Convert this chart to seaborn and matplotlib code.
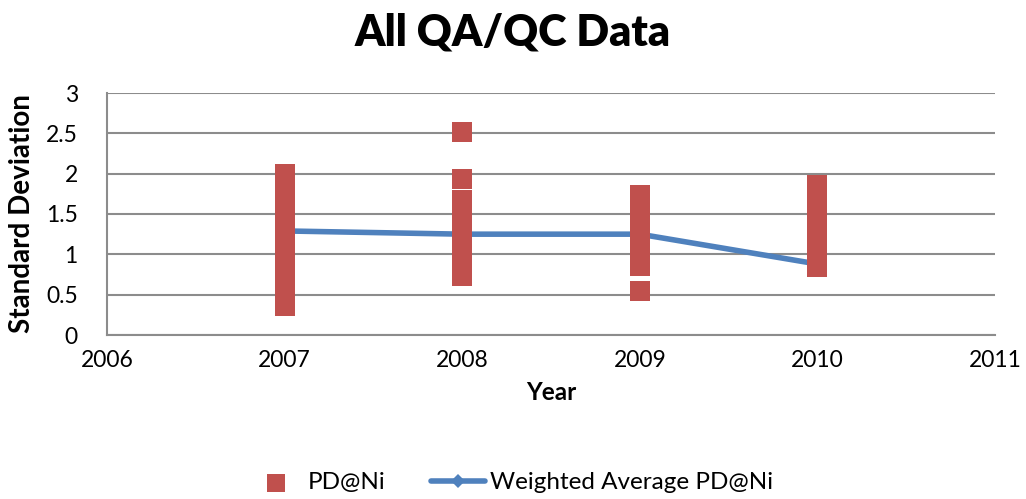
import matplotlib

matplotlib.use("Agg")
import matplotlib.pyplot as plt
import numpy as np
import pandas as pd
import seaborn as sns

# individual PD@Ni standard deviations per year
years_2007 = [2.00, 1.92, 1.84, 1.75, 1.66, 1.58, 1.50, 1.42, 1.33, 1.25,
              1.16, 1.08, 1.00, 0.92, 0.83, 0.75, 0.66, 0.58, 0.50, 0.42, 0.36]
years_2008 = [2.52, 1.94, 1.67, 1.58, 1.50, 1.42, 1.33, 1.25, 1.16, 1.08,
              1.00, 0.92, 0.84, 0.78, 0.73]
years_2009 = [1.73, 1.65, 1.58, 1.50, 1.42, 1.33, 1.25, 1.16, 1.08, 1.00,
              0.92, 0.85, 0.55]
years_2010 = [1.86, 1.78, 1.70, 1.62, 1.54, 1.46, 1.38, 1.30, 1.22, 1.14,
              1.06, 0.98, 0.90, 0.84]

avg_years = [2007, 2008, 2009, 2010]
avg_values = [1.29, 1.25, 1.25, 0.88]

pts = pd.DataFrame({
    "Year": [2007] * len(years_2007) + [2008] * len(years_2008)
    + [2009] * len(years_2009) + [2010] * len(years_2010),
    "SD": years_2007 + years_2008 + years_2009 + years_2010,
})
avg = pd.DataFrame({"Year": avg_years, "SD": avg_values})

sns.set_style("white")
plt.rcParams["font.family"] = ["Lato", "DejaVu Sans"]
plt.rcParams["text.color"] = "black"
plt.rcParams["axes.labelcolor"] = "black"
plt.rcParams["xtick.color"] = "black"
plt.rcParams["ytick.color"] = "black"

fig = plt.figure(figsize=(10.26, 4.99), dpi=100)
ax = fig.add_axes([107 / 1026, 1 - 335 / 499, (995 - 107) / 1026, (335 - 93) / 499])

sns.lineplot(data=avg, x="Year", y="SD", ax=ax, color="#4F81BD", lw=4,
             marker="D", markersize=8, markeredgewidth=0, zorder=2,
             label="Weighted Average PD@Ni")
sns.scatterplot(data=pts, x="Year", y="SD", ax=ax, color="#C0504D", marker="s",
                s=220, linewidth=0, zorder=3, label="PD@Ni")

ax.set_xlim(2006, 2011)
ax.set_ylim(0, 3)
ax.set_xticks([2006, 2007, 2008, 2009, 2010, 2011])
ax.set_yticks([0, 0.5, 1, 1.5, 2, 2.5, 3])
ax.set_yticklabels(["0", "0.5", "1", "1.5", "2", "2.5", "3"])
ax.tick_params(axis="both", labelsize=16.5, length=0)
ax.tick_params(axis="y", pad=21)
ax.tick_params(axis="x", pad=11)
ax.grid(axis="y", color="#8c8c8c", lw=1.5)
ax.set_axisbelow(True)
for side in ["top", "right"]:
    ax.spines[side].set_visible(False)
for side in ["left", "bottom"]:
    ax.spines[side].set_color("#8c8c8c")
    ax.spines[side].set_linewidth(1.5)

ax.set_xlabel("Year", fontsize=17.5, fontweight="bold", labelpad=7)
ax.set_ylabel("Standard Deviation", fontsize=20, fontweight="bold", labelpad=8)
fig.suptitle("All QA/QC Data", fontsize=31, fontweight="heavy", y=0.975)

handles, labels = ax.get_legend_handles_labels()
order = [labels.index("PD@Ni"), labels.index("Weighted Average PD@Ni")]
ax.legend([handles[i] for i in order], [labels[i] for i in order],
          loc="center", bbox_to_anchor=(0.455, -0.61), ncol=2, frameon=False,
          fontsize=17.5, handlelength=2.2, handletextpad=0.2, columnspacing=1.9,
          markerscale=0.85)

fig.savefig("out.png", dpi=100)
